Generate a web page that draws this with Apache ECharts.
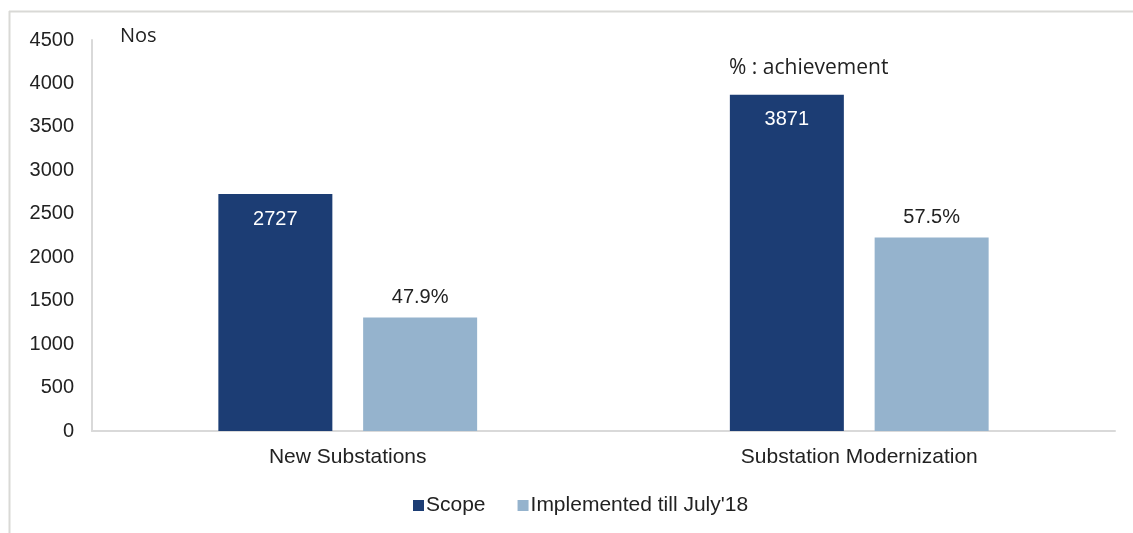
<!DOCTYPE html>
<html>
<head>
<meta charset="utf-8">
<script src="https://cdn.jsdelivr.net/npm/echarts@6/dist/echarts.min.js"></script>
<style>
  html, body { margin: 0; padding: 0; background: #fff; }
  #chart { width: 1133px; height: 533px; }
</style>
</head>
<body>
<div id="chart"></div>
<script>
const categories = ['New Substations', 'Substation Modernization'];
const scopeData = [2727, 3871];
const implementedData = [1306, 2226];
const achievementLabels = ['47.9%', '57.5%'];

const chart = echarts.init(document.getElementById('chart'));
const font = 'Liberation Sans, Arial, sans-serif';

chart.setOption({
  animation: false,
  textStyle: { fontFamily: font },
  graphic: [
    // frame (top + left edges)
    { type: 'line', shape: { x1: 9, y1: 11.5, x2: 1133, y2: 11.5 }, style: { stroke: '#d9d9d6', lineWidth: 2 } },
    { type: 'line', shape: { x1: 9.5, y1: 11, x2: 9.5, y2: 533 }, style: { stroke: '#d9d9d6', lineWidth: 2 } },
    { type: 'text', left: 120, top: 26, style: { text: 'Nos', font: '20px "Open Sans", sans-serif', fill: '#222' } },
    { type: 'text', left: 729, top: 58, style: { text: '% : achievement', font: '21px "Open Sans", sans-serif', fill: '#222' } }
  ],
  grid: { left: 92, right: 18, top: 40, bottom: 102 },
  legend: {
    bottom: 12,
    left: 408,
    itemWidth: 11,
    itemHeight: 11,
    itemGap: 32,
    icon: 'rect',
    textStyle: { fontSize: 21, color: '#222', fontFamily: font, padding: [0, 0, 0, -3] },
    data: ['Scope', "Implemented till July'18"]
  },
  xAxis: {
    type: 'category',
    data: categories,
    axisLine: { lineStyle: { color: '#d9d9d9', width: 2 } },
    axisTick: { show: false },
    axisLabel: { color: '#222', fontSize: 21, margin: 16 }
  },
  yAxis: {
    type: 'value',
    min: 0,
    max: 4500,
    interval: 500,
    splitLine: { show: false },
    axisLine: { show: true, lineStyle: { color: '#d9d9d9', width: 2 } },
    axisTick: { show: false },
    axisLabel: { color: '#222', fontSize: 20, margin: 18, formatter: (v) => String(v) }
  },
  series: [
    {
      name: 'Scope',
      type: 'bar',
      data: scopeData,
      barWidth: 114,
      barGap: '27%',
      itemStyle: { color: '#1c3d74' },
      label: {
        show: true,
        position: 'insideTop',
        distance: 15,
        color: '#fff',
        fontSize: 20
      }
    },
    {
      name: "Implemented till July'18",
      type: 'bar',
      data: implementedData,
      barWidth: 114,
      itemStyle: { color: '#95b3cd' },
      label: {
        show: true,
        position: 'top',
        distance: 10,
        color: '#222',
        fontSize: 20,
        formatter: (p) => achievementLabels[p.dataIndex]
      }
    }
  ]
});
</script>
</body>
</html>
